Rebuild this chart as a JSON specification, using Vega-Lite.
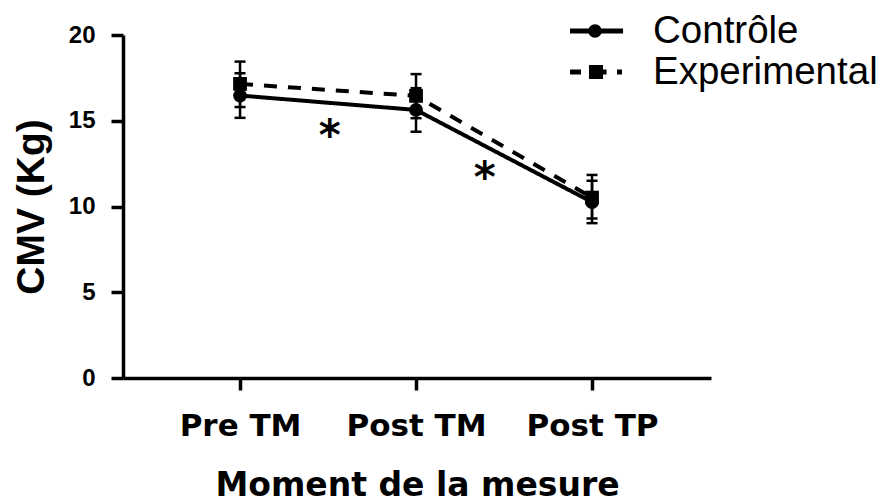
{
  "$schema": "https://vega.github.io/schema/vega-lite/v6.json",
  "autosize": {"type": "none"},
  "padding": {"left": 123, "top": 35, "right": 174, "bottom": 126},
  "width": 588,
  "height": 343,
  "background": "white",
  "config": {
    "view": {"stroke": null},
    "axis": {
      "grid": false,
      "domainColor": "black",
      "domainWidth": 3.5,
      "tickColor": "black",
      "tickWidth": 3.5,
      "tickSize": 12,
      "labelColor": "black",
      "titleColor": "black"
    }
  },
  "datasets": {
    "cmv": [
      {"moment": "Pre TM", "t": 0, "group": "Contrôle", "mean": 16.47, "lo": 15.17, "hi": 17.77},
      {"moment": "Post TM", "t": 1, "group": "Contrôle", "mean": 15.63, "lo": 14.36, "hi": 16.9},
      {"moment": "Post TP", "t": 2, "group": "Contrôle", "mean": 10.26, "lo": 9.03, "hi": 11.5},
      {"moment": "Pre TM", "t": 0, "group": "Experimental", "mean": 17.15, "lo": 15.8, "hi": 18.45},
      {"moment": "Post TM", "t": 1, "group": "Experimental", "mean": 16.45, "lo": 15.15, "hi": 17.72},
      {"moment": "Post TP", "t": 2, "group": "Experimental", "mean": 10.52, "lo": 9.3, "hi": 11.84}
    ],
    "stars": [
      {"t": 0.51, "v": 14.6, "label": "*"},
      {"t": 1.39, "v": 12.1, "label": "*"}
    ]
  },
  "encoding": {
    "x": {
      "field": "t",
      "type": "quantitative",
      "scale": {"domain": [-0.665, 2.676], "nice": false, "zero": false},
      "axis": {
        "title": "Moment de la mesure",
        "values": [0, 1, 2],
        "labelExpr": "datum.value == 0 ? 'Pre TM' : datum.value == 1 ? 'Post TM' : 'Post TP'",
        "labelFont": "DejaVu Sans",
        "labelFontWeight": "bold",
        "labelFontSize": 31,
        "labelPadding": 21,
        "labelFlush": false,
        "labelOverlap": false,
        "titleFont": "DejaVu Sans",
        "titleFontWeight": "bold",
        "titleFontSize": 33,
        "titlePadding": 28
      }
    },
    "y": {
      "type": "quantitative",
      "scale": {"domain": [0, 20], "nice": false},
      "axis": {
        "title": "CMV (Kg)",
        "values": [0, 5, 10, 15, 20],
        "labelFont": "Liberation Sans",
        "labelFontWeight": "bold",
        "labelFontSize": 24,
        "labelPadding": 16,
        "titleFont": "Liberation Sans",
        "titleFontWeight": "bold",
        "titleFontSize": 39,
        "titlePadding": 17
      }
    }
  },
  "layer": [
    {
      "data": {"name": "cmv"},
      "mark": {"type": "line", "strokeWidth": 4, "color": "black"},
      "encoding": {
        "y": {"field": "mean"},
        "detail": {"field": "group", "type": "nominal"},
        "strokeDash": {"condition": {"test": "datum.group === 'Experimental'", "value": [13, 11]}, "value": [1, 0]}
      }
    },
    {
      "data": {"name": "cmv"},
      "mark": {"type": "rule", "strokeWidth": 2.5, "color": "black"},
      "encoding": {"y": {"field": "lo"}, "y2": {"field": "hi"}}
    },
    {
      "data": {"name": "cmv"},
      "mark": {"type": "tick", "orient": "horizontal", "size": 11, "thickness": 2.5, "color": "black", "opacity": 1},
      "encoding": {"y": {"field": "lo"}}
    },
    {
      "data": {"name": "cmv"},
      "mark": {"type": "tick", "orient": "horizontal", "size": 11, "thickness": 2.5, "color": "black", "opacity": 1},
      "encoding": {"y": {"field": "hi"}}
    },
    {
      "data": {"name": "cmv"},
      "mark": {"type": "point", "filled": true, "size": 190, "color": "black", "opacity": 1},
      "encoding": {
        "y": {"field": "mean"},
        "shape": {"condition": {"test": "datum.group === 'Contrôle'", "value": "circle"}, "value": "square"}
      }
    },
    {
      "data": {"name": "cmv"},
      "mark": {"type": "point", "filled": true, "size": 190, "color": "black", "opacity": 0},
      "encoding": {
        "y": {"field": "mean"},
        "shape": {
          "field": "group",
          "type": "nominal",
          "scale": {
            "domain": ["Contrôle", "Experimental"],
            "range": [
              "M-1.03,-0.09H-0.3V0.09H-1.03ZM0.12,-0.09H0.93V0.09H0.12ZM-0.336,0C-0.336,-0.1358,-0.2258,-0.246,-0.09,-0.246C0.0458,-0.246,0.156,-0.1358,0.156,0C0.156,0.1358,0.0458,0.246,-0.09,0.246C-0.2258,0.246,-0.336,0.1358,-0.336,0Z",
              "M-1.03,-0.09H-0.6V0.09H-1.03ZM-0.31,-0.255H0.2V0.255H-0.31ZM0.2,-0.09H0.33V0.09H0.2ZM0.71,-0.09H0.89V0.09H0.71Z"
            ]
          },
          "legend": {
            "title": null,
            "orient": "none",
            "legendX": 447,
            "legendY": -23.5,
            "padding": 0,
            "clipHeight": 39,
            "symbolSize": 3025,
            "symbolOpacity": 1,
            "symbolFillColor": "black",
            "symbolStrokeWidth": 0,
            "labelFont": "Liberation Sans",
            "labelFontSize": 38.5,
            "labelColor": "black",
            "labelOffset": 28,
            "labelLimit": 400,
            "encode": {
              "symbols": {
                "fill": {"value": "black"},
                "strokeWidth": {"value": 0},
                "size": {"value": 3025},
                "opacity": {"value": 1}
              }
            }
          }
        }
      }
    },
    {
      "data": {"name": "stars"},
      "mark": {"type": "text", "font": "DejaVu Sans", "fontWeight": "bold", "fontSize": 42, "baseline": "alphabetic", "dy": 22, "color": "black"},
      "encoding": {"y": {"field": "v"}, "text": {"field": "label"}}
    }
  ]
}
